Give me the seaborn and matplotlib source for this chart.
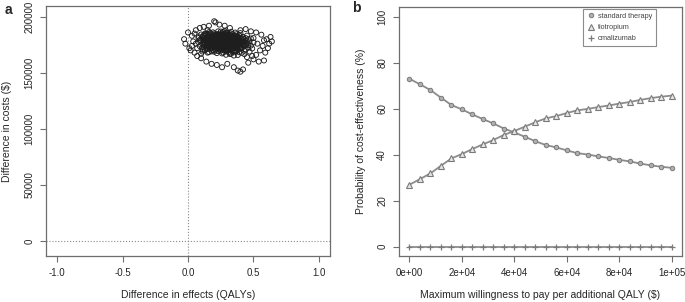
import numpy as np
import pandas as pd
import matplotlib
matplotlib.use('Agg')
import matplotlib.pyplot as plt
import seaborn as sns
from matplotlib.lines import Line2D

sns.set_theme(style='ticks')
plt.rcParams['font.family'] = ['Liberation Sans', 'DejaVu Sans']

# ---------------- Panel a: incremental cost-effectiveness plane ----------------
# (difference in effects [QALYs], difference in costs [thousand $]) read from the cloud
outer_pts = [
    (-0.03, 180), (-0.02, 176), (0.00, 186), (0.01, 172), (0.02, 170), (0.03, 183), (0.05, 168),
    (0.04, 178), (0.06, 188), (0.07, 165), (0.09, 190), (0.10, 163), (0.12, 191), (0.14, 160),
    (0.16, 192), (0.18, 158), (0.20, 196), (0.21, 195), (0.22, 157), (0.24, 193), (0.26, 155),
    (0.28, 192), (0.30, 158), (0.32, 190), (0.35, 155), (0.38, 152), (0.40, 151), (0.42, 153),
    (0.44, 189), (0.46, 159), (0.48, 187), (0.50, 162), (0.52, 186), (0.54, 160), (0.56, 184),
    (0.58, 161), (0.60, 180), (0.62, 176), (0.63, 182), (0.64, 178), (0.55, 170), (0.57, 174),
    (0.59, 168), (0.52, 166), (0.50, 181), (0.06, 176), (0.08, 181), (0.03, 174), (0.11, 169),
    (0.13, 185), (0.05, 185), (0.07, 172), (0.45, 164), (0.53, 176), (0.58, 179), (0.49, 165),
    (0.10, 167), (0.40, 188), (0.15, 188), (0.61, 172),
]
core_pts = [
    (0.25, 177.2), (0.31, 175.4), (0.18, 179.8), (0.22, 181.3), (0.29, 172.6), (0.35, 174.1), (0.14, 178.5), (0.27, 183.0), (0.33, 170.9), (0.20, 176.3),
    (0.38, 176.8), (0.12, 180.7), (0.24, 171.5), (0.30, 179.1), (0.17, 174.2), (0.41, 173.0), (0.26, 185.2), (0.36, 168.7), (0.21, 182.6), (0.28, 176.0),
    (0.16, 183.4), (0.33, 178.3), (0.23, 169.4), (0.39, 180.2), (0.11, 175.6), (0.27, 173.7), (0.19, 186.1), (0.44, 175.1), (0.32, 166.8), (0.25, 180.5),
    (0.15, 171.2), (0.37, 182.4), (0.29, 177.9), (0.21, 174.8), (0.43, 169.6), (0.09, 179.4), (0.34, 184.7), (0.26, 167.3), (0.18, 177.0), (0.40, 177.7),
    (0.31, 181.6), (0.13, 182.9), (0.24, 175.9), (0.35, 171.8), (0.20, 184.0), (0.28, 169.9), (0.46, 172.3), (0.17, 180.1), (0.30, 174.5), (0.22, 178.7),
    (0.38, 165.9), (0.10, 184.2), (0.27, 179.5), (0.33, 173.3), (0.15, 176.9), (0.42, 178.8), (0.23, 187.0), (0.36, 176.1), (0.19, 170.4), (0.29, 182.1),
    (0.47, 178.0), (0.12, 173.1), (0.26, 176.6), (0.34, 169.0), (0.21, 179.3), (0.39, 183.5), (0.16, 168.5), (0.30, 185.8), (0.25, 172.0), (0.44, 181.0),
    (0.08, 177.3), (0.32, 176.4), (0.18, 182.2), (0.37, 172.5), (0.24, 184.9), (0.28, 174.0), (0.14, 174.6), (0.41, 167.8), (0.22, 173.9), (0.35, 179.9),
    (0.20, 172.8), (0.31, 168.2), (0.27, 186.4), (0.45, 176.4), (0.11, 181.9), (0.26, 178.2), (0.38, 174.7), (0.17, 185.5), (0.33, 182.7), (0.23, 176.7),
    (0.29, 166.1), (0.19, 175.2), (0.40, 171.4), (0.13, 170.3), (0.36, 180.9), (0.25, 183.8), (0.32, 172.9), (0.21, 170.1), (0.48, 174.3), (0.16, 179.0),
    (0.27, 175.3), (0.34, 176.9), (0.22, 184.5), (0.42, 182.0), (0.18, 173.4), (0.30, 171.0), (0.24, 179.7), (0.37, 169.3), (0.15, 181.2), (0.28, 180.4),
    (0.39, 177.4), (0.12, 177.8), (0.26, 170.7), (0.33, 186.6), (0.20, 178.1), (0.43, 173.6), (0.17, 171.9), (0.31, 178.6), (0.35, 165.4), (0.23, 182.3),
    (0.09, 173.8), (0.29, 184.3), (0.40, 175.8), (0.25, 174.4), (0.14, 185.0), (0.36, 183.1), (0.21, 176.0), (0.46, 180.0), (0.27, 168.0), (0.32, 180.8),
    (0.19, 181.7), (0.38, 171.1), (0.24, 173.0), (0.11, 172.4), (0.30, 176.2), (0.44, 170.8), (0.16, 177.6), (0.34, 174.9), (0.22, 167.6), (0.28, 187.5),
    (0.41, 179.6), (0.13, 176.1), (0.26, 181.4), (0.35, 177.1), (0.18, 169.1), (0.31, 183.9), (0.23, 178.9), (0.49, 171.7), (0.20, 180.9), (0.37, 178.4),
    (0.27, 171.3), (0.15, 184.6), (0.33, 175.7), (0.42, 176.5), (0.10, 178.9), (0.25, 186.8), (0.29, 175.0), (0.39, 168.4), (0.21, 183.6), (0.36, 173.5),
    (0.17, 176.5), (0.32, 170.2), (0.24, 177.5), (0.45, 183.2), (0.14, 172.7), (0.30, 181.8), (0.26, 174.1), (0.40, 185.4), (0.19, 178.4), (0.34, 180.3),
    (0.22, 171.6), (0.38, 179.2), (0.28, 178.5), (0.12, 183.7), (0.47, 168.9), (0.31, 173.2), (0.23, 174.3), (0.35, 182.8), (0.16, 173.7), (0.27, 180.6),
    (0.43, 177.9), (0.20, 168.8), (0.33, 179.4), (0.25, 169.7), (0.08, 182.5), (0.37, 175.5), (0.18, 175.8), (0.29, 186.0), (0.41, 171.8), (0.24, 182.7),
    (0.50, 177.1), (0.13, 179.6), (0.30, 169.6), (0.21, 177.8), (0.36, 185.9), (0.26, 172.6), (0.15, 168.0), (0.32, 184.1), (0.39, 174.0), (0.22, 180.2),
    (0.44, 178.6), (0.17, 182.8), (0.28, 172.2), (0.34, 171.5), (0.19, 173.0), (0.27, 177.7), (0.11, 170.6), (0.37, 184.4), (0.24, 170.5), (0.42, 174.8),
    (0.31, 176.7), (0.20, 185.1), (0.35, 169.8), (0.14, 180.3), (0.26, 184.0), (0.46, 174.9), (0.23, 172.1), (0.30, 178.0), (0.16, 186.3), (0.38, 181.3),
    (0.29, 170.6), (0.21, 175.5), (0.33, 167.1), (0.40, 182.6), (0.18, 171.7), (0.25, 178.8), (0.12, 175.0), (0.36, 178.0), (0.27, 182.9), (0.48, 180.6),
    (0.22, 176.1), (0.32, 174.2), (0.15, 178.1), (0.39, 172.8), (0.28, 184.8), (0.19, 183.3), (0.34, 177.3), (0.43, 166.7), (0.24, 180.0), (0.30, 173.9),
]
inner_pts = [
    (0.20, 177.5), (0.26, 179.0), (0.31, 177.0), (0.17, 178.2), (0.23, 180.8), (0.29, 174.8), (0.35, 178.6), (0.14, 176.3), (0.38, 177.9), (0.25, 175.1),
    (0.19, 182.0), (0.27, 176.4), (0.33, 181.1), (0.22, 174.6), (0.30, 183.2), (0.16, 175.4), (0.36, 175.2), (0.24, 181.9), (0.41, 176.0), (0.28, 179.8),
    (0.13, 178.8), (0.21, 178.4), (0.34, 172.4), (0.26, 182.3), (0.18, 180.6), (0.32, 177.8), (0.23, 175.6), (0.39, 179.0), (0.29, 180.9), (0.15, 182.4),
    (0.27, 174.5), (0.20, 174.0), (0.37, 180.6), (0.24, 176.9), (0.31, 172.0), (0.17, 177.1), (0.43, 175.6), (0.25, 181.0), (0.33, 176.1), (0.21, 172.7),
    (0.28, 177.3), (0.12, 179.1), (0.35, 175.9), (0.22, 183.0), (0.30, 175.6), (0.40, 178.3), (0.19, 176.8), (0.26, 173.4), (0.34, 182.0), (0.16, 181.6),
    (0.23, 177.9), (0.29, 178.9), (0.37, 173.9), (0.20, 179.6), (0.27, 184.1), (0.14, 173.6), (0.32, 179.9), (0.25, 176.0), (0.42, 180.4), (0.18, 174.9),
    (0.30, 180.2), (0.22, 177.1), (0.36, 177.5), (0.26, 175.7), (0.15, 174.0), (0.33, 174.4), (0.21, 181.5), (0.39, 176.2), (0.28, 182.6), (0.24, 178.3),
    (0.31, 179.5), (0.17, 179.3), (0.27, 172.9), (0.35, 180.7), (0.23, 183.9), (0.19, 177.4), (0.40, 174.5), (0.29, 176.5), (0.13, 181.0), (0.34, 178.9),
    (0.25, 179.2), (0.20, 182.9), (0.32, 175.0), (0.38, 182.1), (0.16, 176.0), (0.28, 175.3), (0.22, 179.9), (0.44, 177.0), (0.30, 177.2), (0.26, 177.8),
    (0.18, 178.7), (0.35, 176.6), (0.24, 174.8), (0.31, 184.6), (0.21, 173.3), (0.37, 179.7), (0.27, 178.1), (0.14, 180.0), (0.33, 177.6), (0.29, 173.5),
]
all_pts = outer_pts + core_pts + inner_pts
qaly_diff = [p[0] for p in all_pts]
cost_diff_k = [p[1] for p in all_pts]

a_xticks = [-1.0, -0.5, 0.0, 0.5, 1.0]
a_xticklabels = ['-1.0', '-0.5', '0.0', '0.5', '1.0']
a_yticks = [0, 50000, 100000, 150000, 200000]
a_yticklabels = ['0', '50000', '100000', '150000', '200000']

# ---------------- Panel b: cost-effectiveness acceptability curves ----------------
wtp = [0, 4000, 8000, 12000, 16000, 20000, 24000, 28000, 32000, 36000, 40000, 44000, 48000,
       52000, 56000, 60000, 64000, 68000, 72000, 76000, 80000, 84000, 88000, 92000, 96000, 100000]
p_standard = [73.0, 70.6, 68.1, 64.8, 61.6, 59.7, 57.5, 55.5, 53.6, 51.4, 49.7, 47.8, 45.9,
              44.2, 43.2, 41.9, 40.7, 40.1, 39.3, 38.6, 37.8, 37.1, 36.2, 35.4, 34.8, 34.3]
p_tiotropium = [27.0, 29.4, 31.9, 35.2, 38.4, 40.3, 42.5, 44.5, 46.4, 48.6, 50.3, 52.2, 54.1,
                55.8, 56.8, 58.1, 59.3, 59.9, 60.7, 61.4, 62.2, 62.9, 63.8, 64.6, 65.2, 65.7]
p_omalizumab = [0, 0, 0, 0, 0, 0, 0, 0, 0, 0, 0, 0, 0,
                0, 0, 0, 0, 0, 0, 0, 0, 0, 0, 0, 0, 0]
series_names = ['standard therapy', 'tiotropium', 'omalizumab']

b_xticks = [0, 20000, 40000, 60000, 80000, 100000]
b_xticklabels = ['0e+00', '2e+04', '4e+04', '6e+04', '8e+04', '1e+05']
b_yticks = [0, 20, 40, 60, 80, 100]
b_yticklabels = ['0', '20', '40', '60', '80', '100']

# ---------------- Figure ----------------
W, H = 685, 302
fig = plt.figure(figsize=(W / 100, H / 100), dpi=100)
fig.patch.set_facecolor('white')

def fr(l, t, r, b):
    return [l / W, 1 - b / H, (r - l) / W, (b - t) / H]

axa = fig.add_axes(fr(46, 6, 330, 256))
axb = fig.add_axes(fr(399, 7, 682, 256))

spine_c = '#6e6e6e'
tick_c = '#262626'

def style_axes(ax):
    for s in ax.spines.values():
        s.set_visible(True)
        s.set_color(spine_c)
        s.set_linewidth(0.9)
    ax.tick_params(direction='out', length=4.5, width=0.8, color=spine_c,
                   labelsize=7, labelcolor=tick_c, pad=4)
    ax.grid(False)

# Panel a
df_a = pd.DataFrame({'qaly': qaly_diff, 'cost': [c * 1000 for c in cost_diff_k]})
axa.axvline(0, color='#8a8a8a', lw=0.8, ls=':', zorder=1)
axa.axhline(0, color='#8a8a8a', lw=0.8, ls=':', zorder=1)
sns.scatterplot(data=df_a, x='qaly', y='cost', ax=axa, marker='o', s=13,
                facecolor='none', edgecolor='#1e1e1e', linewidth=0.65, zorder=3)
axa.set_xlim(-1.084, 1.084)
axa.set_ylim(-13400, 209600)
axa.set_xticks(a_xticks)
axa.set_xticklabels(a_xticklabels)
axa.set_yticks(a_yticks)
axa.set_yticklabels(a_yticklabels, rotation=90, va='center')
style_axes(axa)
axa.set_xlabel('Difference in effects (QALYs)', fontsize=7.5, color=tick_c)
axa.set_ylabel('Difference in costs ($)', fontsize=7.5, color=tick_c)
axa.xaxis.set_label_coords(0.5, -0.156)
axa.xaxis.label.set_va('center')
axa.yaxis.set_label_coords(-0.137, 0.5)
axa.yaxis.label.set_va('center')

# Panel b
line_c = '#8c8c8c'
mk_c = '#7a7a7a'
df_b = pd.DataFrame({'wtp': wtp * 3,
                     'prob': p_standard + p_tiotropium + p_omalizumab,
                     'strategy': sum([[n] * len(wtp) for n in series_names], [])})
marker_spec = {
    'standard therapy': dict(marker='o', markersize=3.2, markerfacecolor='#b0b0b0',
                             markeredgecolor=mk_c, markeredgewidth=0.7),
    'tiotropium': dict(marker='^', markersize=4.2, markerfacecolor='#e6e6e6',
                       markeredgecolor=mk_c, markeredgewidth=0.8),
    'omalizumab': dict(marker='+', markersize=5, markeredgecolor=mk_c, markeredgewidth=0.9),
}
for name in series_names:
    sub = df_b[df_b['strategy'] == name]
    sns.lineplot(data=sub, x='wtp', y='prob', ax=axb, color=line_c, linewidth=1.3,
                 **marker_spec[name])
axb.set_xlim(-4000, 104000)
axb.set_ylim(-4, 104.2)
axb.set_xticks(b_xticks)
axb.set_xticklabels(b_xticklabels)
axb.set_yticks(b_yticks)
axb.set_yticklabels(b_yticklabels, rotation=90, va='center')
style_axes(axb)
axb.set_xlabel('Maximum willingness to pay per additional QALY ($)', fontsize=7.5,
               color=tick_c)
axb.set_ylabel('Probability of cost-effectiveness (%)', fontsize=7.5, color=tick_c)
axb.xaxis.set_label_coords(0.5, -0.156)
axb.xaxis.label.set_va('center')
axb.yaxis.set_label_coords(-0.134, 0.5)
axb.yaxis.label.set_va('center')

handles = [Line2D([], [], linestyle='none', **marker_spec[n]) for n in series_names]
leg = fig.legend(handles, series_names, loc='upper left',
                 bbox_to_anchor=(583 / W, 1 - 9 / H),
                 fontsize=5.2, frameon=True, fancybox=False, handlelength=1.0,
                 handletextpad=0.5, borderpad=0.55, labelspacing=0.55, borderaxespad=0)
leg.get_frame().set_edgecolor('#6e6e6e')
leg.get_frame().set_linewidth(0.8)
for t in leg.get_texts():
    t.set_color('#444444')

fig.text(5 / W, 1 - 10 / H, 'a', fontsize=10, fontweight='bold', ha='left', va='center')
fig.text(352 / W, 1 - 8 / H, 'b', fontsize=10, fontweight='bold', ha='left', va='center')

fig.savefig('out.png', dpi=100)
